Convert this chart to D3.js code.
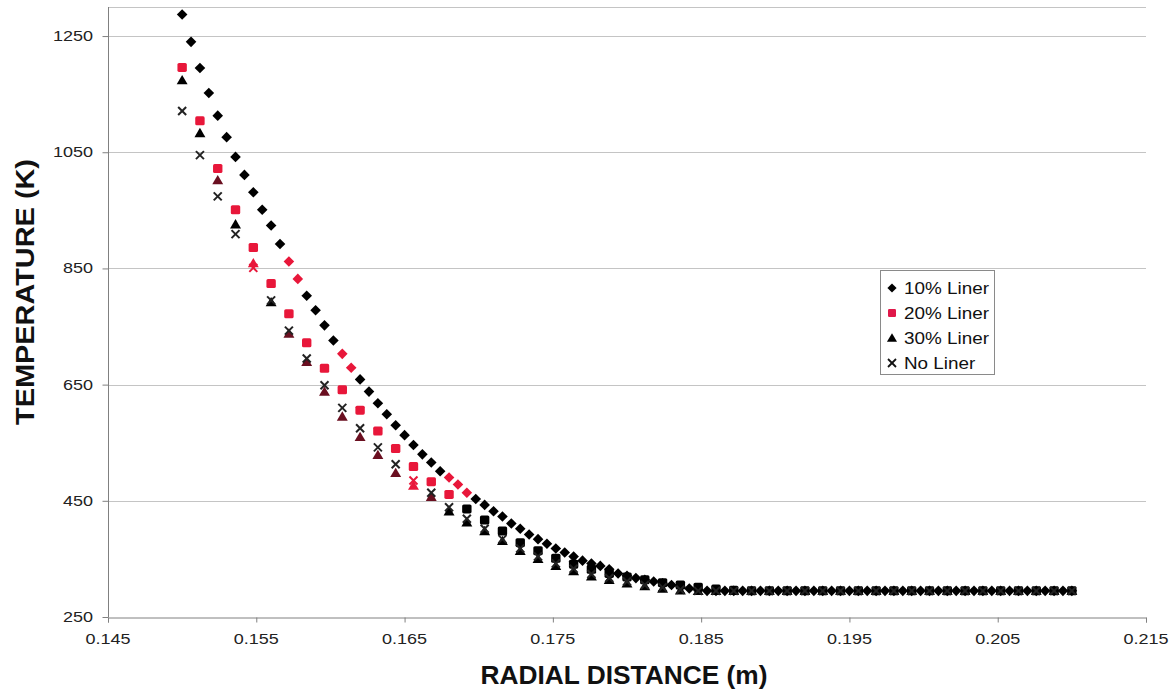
<!DOCTYPE html>
<html>
<head>
<meta charset="utf-8">
<script src="https://cdn.jsdelivr.net/npm/d3@7"></script>
<style>
  html, body { margin: 0; padding: 0; background: #fff; }
  svg { display: block; font-family: "Liberation Sans", Arial, sans-serif; }
</style>
</head>
<body>
<svg id="chart" width="1169" height="690"></svg>
<script>
// ---------------- DATA ----------------
const radialFine = [
  0.1500,0.1506,0.1512,0.1518,0.1524,0.1530,0.1536,0.1542,0.1548,0.1554,
  0.1560,0.1566,0.1572,0.1578,0.1584,0.1590,0.1596,0.1602,0.1608,0.1614,
  0.1620,0.1626,0.1632,0.1638,0.1644,0.1650,0.1656,0.1662,0.1668,0.1674,
  0.1680,0.1686,0.1692,0.1698,0.1704,0.1710,0.1716,0.1722,0.1728,0.1734,
  0.1740,0.1746,0.1752,0.1758,0.1764,0.1770,0.1776,0.1782,0.1788,0.1794,
  0.1800,0.1806,0.1812,0.1818,0.1824,0.1830,0.1836,0.1842,0.1848,0.1854,
  0.1860,0.1866,0.1872,0.1878,0.1884,0.1890,0.1896,0.1902,0.1908,0.1914,
  0.1920,0.1926,0.1932,0.1938,0.1944,0.1950,0.1956,0.1962,0.1968,0.1974,
  0.1980,0.1986,0.1992,0.1998,0.2004,0.2010,0.2016,0.2022,0.2028,0.2034,
  0.2040,0.2046,0.2052,0.2058,0.2064,0.2070,0.2076,0.2082,0.2088,0.2094,
  0.2100
];
const radialCoarse = [
  0.1500,0.1512,0.1524,0.1536,0.1548,0.1560,0.1572,0.1584,0.1596,0.1608,
  0.1620,0.1632,0.1644,0.1656,0.1668,0.1680,0.1692,0.1704,0.1716,0.1728,
  0.1740,0.1752,0.1764,0.1776,0.1788,0.1800,0.1812,0.1824,0.1836,0.1848,
  0.1860,0.1872,0.1884,0.1896,0.1908,0.1920,0.1932,0.1944,0.1956,0.1968,
  0.1980,0.1992,0.2004,0.2016,0.2028,0.2040,0.2052,0.2064,0.2076,0.2088,
  0.2100
];
const liner10 = [
  1287,1240,1195,1152,1113,1076,1042,1011,981,951,
  924,892,862,832,803,778,752,726,703,679,
  659,638,618,599,580,563,546,530,516,501,
  490,478,464,453,443,432,423,411,402,392,
  384,376,368,361,354,347,342,338,332,325,
  321,317,314,311,308,305,302,299,297,295,
  295,295,295,295,295,295,295,295,295,295,
  295,295,295,295,295,295,295,295,295,295,
  295,295,295,295,295,295,295,295,295,295,
  295,295,295,295,295,295,295,295,295,295,
  295
];
const liner20 = [
  1196,1104,1022,951,886,824,772,722,678,641,
  606,570,540,509,483,461,436,417,398,378,
  364,351,341,332,325,319,314,309,305,301,
  298,296,295,295,295,295,295,295,295,295,
  295,295,295,295,295,295,295,295,295,295,
  295
];
const liner30 = [
  1174,1083,1002,926,859,792,738,689,638,595,
  560,529,498,476,457,432,413,398,381,364,
  350,338,329,320,314,308,303,299,296,295,
  295,295,295,295,295,295,295,295,295,295,
  295,295,295,295,295,295,295,295,295,295,
  295
];
const noLiner = [
  1121,1045,974,909,851,795,743,695,649,610,
  575,542,513,485,464,439,419,402,384,368,
  354,342,333,324,317,311,305,301,297,295,
  295,295,295,295,295,295,295,295,295,295,
  295,295,295,295,295,295,295,295,295,295,
  295
];
const xTicks = [0.145,0.155,0.165,0.175,0.185,0.195,0.205,0.215];
const yTicks = [250,450,650,850,1050,1250];
const legendLabels = ["10% Liner","20% Liner","30% Liner","No Liner"];

// ---------------- LAYOUT ----------------
const svg = d3.select("#chart");
const L = 108, R = 1146, T = 7, B = 617;
const x = d3.scaleLinear().domain([0.145, 0.215]).range([L, R]);
const y = d3.scaleLinear().domain([250, 1300]).range([B, T]);

const RED = "#e8173a", MAROON = "#6a0f20", INK = "#111";
const STRETCH = 1.2;

// grid
svg.append("g").selectAll("line").data(yTicks.filter(d => d > 250)).join("line")
  .attr("x1", L).attr("x2", R).attr("y1", d => Math.round(y(d)) + 0.5).attr("y2", d => Math.round(y(d)) + 0.5)
  .attr("stroke", "#c4c4c4").attr("stroke-width", 1);
svg.append("line").attr("x1", L).attr("x2", R).attr("y1", T + 0.5).attr("y2", T + 0.5)
  .attr("stroke", "#c4c4c4");

// axes (tick lines via d3 axes)
const gx = svg.append("g").attr("transform", `translate(0,${B + 0.5})`)
  .call(d3.axisBottom(x).tickValues(xTicks).tickSize(5).tickFormat(""));
const gy = svg.append("g").attr("transform", `translate(${L + 0.5},0)`)
  .call(d3.axisLeft(y).tickValues(yTicks).tickSize(6).tickFormat(""));
[gx, gy].forEach(g => {
  g.selectAll("path.domain").attr("stroke", "#808080");
  g.selectAll(".tick line").attr("stroke", "#808080");
});
gy.select("path.domain").attr("d", `M-0,${T}V${B}`);

// tick labels
svg.append("g").selectAll("text").data(xTicks).join("text")
  .attr("transform", d => `translate(${x(d)},644) scale(${STRETCH},1)`)
  .attr("text-anchor", "middle").attr("font-size", 15).attr("fill", "#222")
  .text(d => d3.format(".3f")(d));
svg.append("g").selectAll("text").data(yTicks).join("text")
  .attr("transform", d => `translate(93,${y(d) + 5}) scale(${STRETCH},1)`)
  .attr("text-anchor", "end").attr("font-size", 15).attr("fill", "#222")
  .text(d => d);

// axis titles
svg.append("text")
  .attr("x", 624).attr("y", 684).attr("text-anchor", "middle")
  .attr("font-size", 26).attr("font-weight", "bold").attr("fill", INK)
  .attr("textLength", 287).attr("lengthAdjust", "spacingAndGlyphs")
  .text("RADIAL DISTANCE (m)");
svg.append("text")
  .attr("transform", "translate(34,292) rotate(-90)")
  .attr("text-anchor", "middle")
  .attr("font-size", 26).attr("font-weight", "bold").attr("fill", INK)
  .attr("textLength", 266).attr("lengthAdjust", "spacingAndGlyphs")
  .text("TEMPERATURE (K)");

// marker drawers
const diamondPath = s => `M0,${-s}L${s},0L0,${s}L${-s},0Z`;
const triPath = s => `M0,${-s}L${s * 1.05},${s * 0.8}L${-s * 1.05},${s * 0.8}Z`;

// style rules
const redDiamonds = new Set([12, 13, 18, 19, 30, 31, 32]);
const triColor = i => (i === 4 || i === 13) ? RED : ((i === 2 || (i >= 6 && i <= 14)) ? MAROON : "#000");
const xColor = i => (i === 4 || i === 13) ? RED : "#222";

const plot = svg.append("g");

// 10% liner diamonds
plot.append("g").selectAll("path").data(liner10).join("path")
  .attr("transform", (d, i) => `translate(${x(radialFine[i])},${y(d)})`)
  .attr("d", diamondPath(5.3))
  .attr("fill", (d, i) => redDiamonds.has(i) ? RED : "#000");

// 20% liner squares
plot.append("g").selectAll("rect").data(liner20).join("rect")
  .attr("x", (d, i) => x(radialCoarse[i]) - 4.7).attr("y", d => y(d) - 4.5)
  .attr("width", 9.4).attr("height", 9).attr("rx", 1.6)
  .attr("fill", (d, i) => radialCoarse[i] < 0.1685 ? RED : "#000");

// 30% liner triangles
plot.append("g").selectAll("path").data(liner30).join("path")
  .attr("transform", (d, i) => `translate(${x(radialCoarse[i])},${y(d)})`)
  .attr("d", triPath(5.2))
  .attr("fill", (d, i) => triColor(i));

// No liner crosses
const gX = plot.append("g").selectAll("g").data(noLiner).join("g")
  .attr("transform", (d, i) => `translate(${x(radialCoarse[i])},${y(d)})`)
  .attr("stroke", (d, i) => xColor(i)).attr("stroke-width", 2);
gX.append("line").attr("x1", -4).attr("y1", -4).attr("x2", 4).attr("y2", 4);
gX.append("line").attr("x1", -4).attr("y1", 4).attr("x2", 4).attr("y2", -4);

// legend
const lg = svg.append("g");
lg.append("rect").attr("x", 880.5).attr("y", 270.5).attr("width", 114).attr("height", 104)
  .attr("fill", "#fff").attr("stroke", "#8a8a8a");
const rowsY = [288, 313, 338, 363];
const mx = 892;
lg.append("path").attr("transform", `translate(${mx},${rowsY[0]})`).attr("d", diamondPath(4.6)).attr("fill", "#000");
lg.append("rect").attr("x", mx - 4).attr("y", rowsY[1] - 4).attr("width", 8).attr("height", 8).attr("rx", 1.2).attr("fill", "#e0184a");
lg.append("path").attr("transform", `translate(${mx},${rowsY[2]})`).attr("d", triPath(4.8)).attr("fill", "#000");
const lx = lg.append("g").attr("transform", `translate(${mx},${rowsY[3]})`).attr("stroke", "#111").attr("stroke-width", 1.8);
lx.append("line").attr("x1", -4).attr("y1", -4).attr("x2", 4).attr("y2", 4);
lx.append("line").attr("x1", -4).attr("y1", 4).attr("x2", 4).attr("y2", -4);
lg.selectAll("text.leg").data(legendLabels).join("text").attr("class", "leg")
  .attr("transform", (d, i) => `translate(904,${rowsY[i] + 6}) scale(1.18,1)`)
  .attr("font-size", 16).attr("fill", "#111")
  .text(d => d);
</script>
</body>
</html>
